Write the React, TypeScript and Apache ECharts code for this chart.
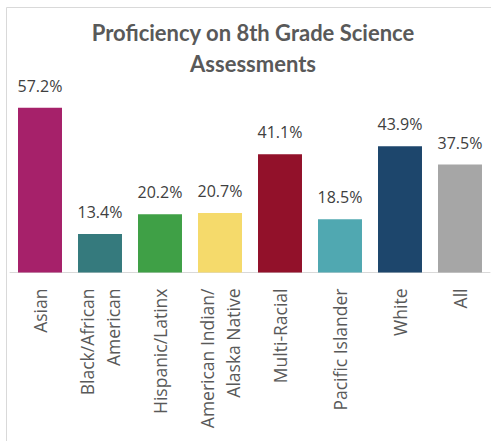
import React, { useEffect, useRef } from "react";
import * as echarts from "echarts";

const categories = [
  "Asian",
  "Black/African\nAmerican",
  "Hispanic/Latinx",
  "American Indian/\nAlaska Native",
  "Multi-Racial",
  "Pacific Islander",
  "White",
  "All",
];
const values = [57.2, 13.4, 20.2, 20.7, 41.1, 18.5, 43.9, 37.5];
const colors = ["#A6216A", "#357A7D", "#3FA046", "#F5DA6B", "#92112A", "#50A8B1", "#1D466C", "#A6A6A6"];
const titleText = "Proficiency on 8th Grade Science\nAssessments";

export default function App() {
  const ref = useRef<HTMLDivElement>(null);
  useEffect(() => {
    const chart = echarts.init(ref.current!, null, { renderer: "svg" });
    chart.setOption({
      animation: false,
      backgroundColor: "#ffffff",
      title: {
        text: titleText,
        left: 248,
        top: 12,
        textAlign: "center",
        textStyle: {
          fontFamily: "Lato",
          fontWeight: "bold",
          fontSize: 22,
          lineHeight: 31,
          color: "#595959",
        },
      },
      graphic: [
        {
          type: "rect",
          shape: { x: 6.5, y: 7.5, width: 600, height: 600 },
          style: { fill: "none", stroke: "#D9D9D9", lineWidth: 1 },
          silent: true,
        },
      ],
      grid: { left: 10, right: 1, top: 71, bottom: 168.5, containLabel: false },
      xAxis: {
        type: "category",
        data: categories,
        axisLine: { lineStyle: { color: "#D9D9D9", width: 1 } },
        axisTick: { show: false },
        axisLabel: {
          rotate: 90,
          interval: 0,
          margin: 16,
          fontFamily: "Open Sans",
          fontSize: 17.5,
          lineHeight: 26,
          color: "#595959",
        },
      },
      yAxis: {
        type: "value",
        min: 0,
        max: 70,
        show: false,
        splitLine: { show: false },
      },
      series: [
        {
          type: "bar",
          data: values.map((v, i) => ({ value: v, itemStyle: { color: colors[i] } })),
          barCategoryGap: "26.7%",
          label: {
            show: true,
            position: "top",
            distance: 14,
            formatter: (p: any) => p.value.toFixed(1) + "%",
            fontFamily: "Open Sans",
            fontSize: 16,
            color: "#404040",
          },
        },
      ],
    });
    return () => chart.dispose();
  }, []);
  return <div ref={ref} style={{ position: "fixed", left: 0, top: 0, width: 491, height: 441 }} />;
}
